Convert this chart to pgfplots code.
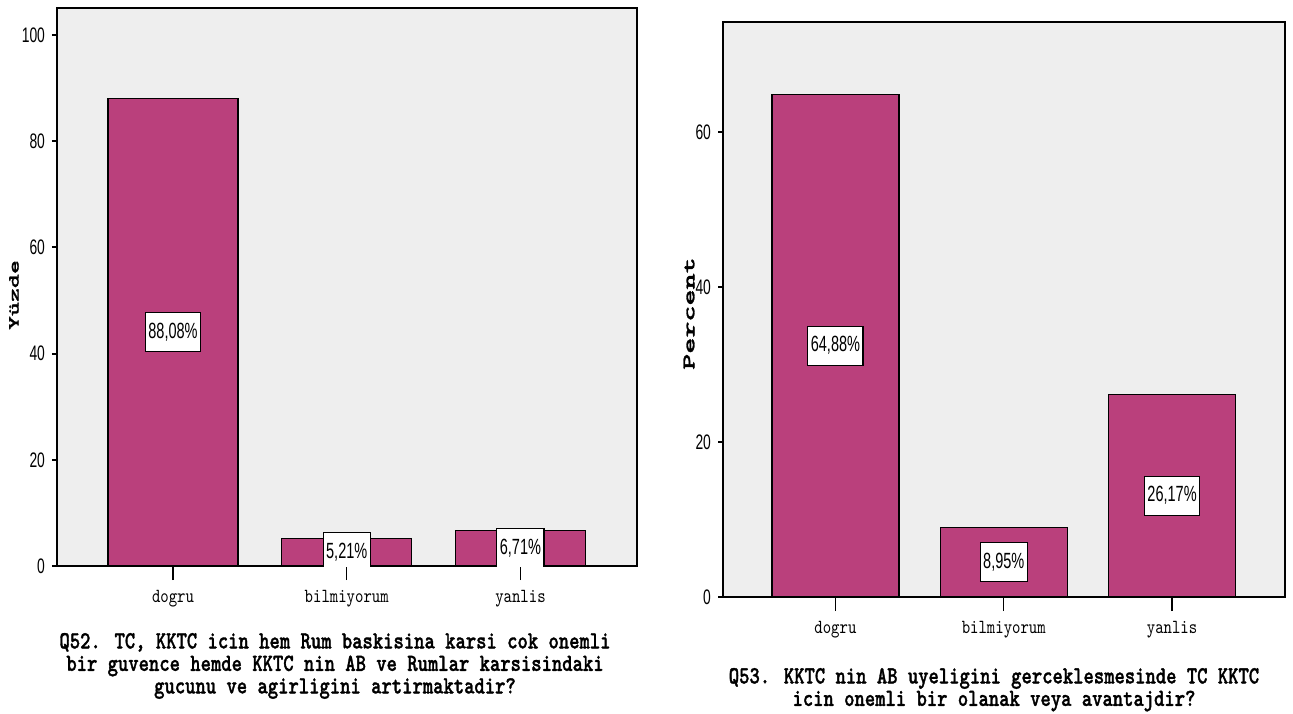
\documentclass[border=0pt]{standalone}
\usepackage{pgfplots}
\pgfplotsset{compat=1.18}
\usepackage{fontspec}
\setmainfont{Liberation Sans}
\newfontfamily\narrowfont[FakeStretch=0.66]{Liberation Sans}
\newfontfamily\monofont{lmmono10-regular}[Extension=.otf, BoldFont=lmmonolt10-bold,
  BoldFeatures={FakeBold=1.3}, FakeStretch=0.8]
\newfontfamily\monowide{lmmono10-regular}[Extension=.otf, BoldFont=lmmonolt10-bold,
  BoldFeatures={FakeBold=1.5}]
\definecolor{barfill}{RGB}{186,64,124}
\definecolor{plotbg}{RGB}{238,238,238}

\pgfplotsset{
  spss/.style={
    scale only axis,
    anchor=south west,
    axis background/.style={fill=plotbg},
    axis line style={line width=0.75pt},
    xmin=-0.668, xmax=2.671, ymin=0,
    xtick={0,1,2}, xticklabels={dogru,bilmiyorum,yanlis},
    tick align=outside,
    xtick pos=lower, ytick pos=left,
    major tick length=2.5pt,
    ytick style={line width=1pt, black},
    xtick style={line width=0.6pt, black, /pgfplots/major tick length=7pt},
    x tick label style={font=\monofont\fontsize{10}{11}\selectfont, yshift=-6pt},
    y tick label style={font=\narrowfont\fontsize{10.5}{12}\selectfont},
    /pgf/number format/assume math mode=true,
    ylabel style={at={(axis description cs:0,0.5)}, anchor=center},
    xlabel style={at={(axis description cs:0.5,0)}, anchor=north, align=center,
      font=\monofont\bfseries\fontsize{12.3}{11.25}\selectfont},
    clip marker paths=true,
  },
  lbl/.style={draw=none, nodes near coords, point meta=explicit symbolic,
    every node near coord/.append style={anchor=center, yshift=0pt,
      font=\narrowfont\fontsize{11}{12}\selectfont, fill=white, draw=black,
      line width=0.6pt, inner xsep=1.5pt, inner ysep=0pt, minimum height=19.5pt}},
}

\begin{document}
\begin{tikzpicture}
\path[use as bounding box] (0,0) rectangle (646.5pt,356.5pt);

\begin{axis}[spss,
  at={(28.5pt,73.5pt)}, width=290pt, height=279pt,
  ymax=105.1, ytick={0,20,40,60,80,100},
  ylabel={\scalebox{1}[0.58]{\monowide\bfseries\fontsize{13.3}{14}\selectfont Yüzde}},
  ylabel style={yshift=21.5pt, xshift=-4pt},
  xlabel={Q52. TC, KKTC icin hem Rum baskisina karsi cok onemli\\bir guvence hemde KKTC nin AB ve Rumlar karsisindaki\\gucunu ve agirligini artirmaktadir?},
  xlabel style={yshift=-30pt, xshift=-6pt},
]
\addplot[ybar, bar width=65pt, fill=barfill, draw=black, line width=0.7pt]
  coordinates {(0,88.08) (1,5.21) (2,6.71)};
\addplot[lbl] coordinates {(0,44.04) [88,08\%] (1,2.605) [5,21\%] (2,3.355) [6,71\%]};
\end{axis}

\begin{axis}[spss,
  at={(361.5pt,58pt)}, width=281pt, height=287.5pt,
  ymax=74.2, ytick={0,20,40,60},
  ylabel={\scalebox{1}[0.58]{\monowide\bfseries\fontsize{15.3}{16}\selectfont Percent}},
  ylabel style={yshift=17pt, xshift=-2pt},
  xlabel={Q53. KKTC nin AB uyeligini gerceklesmesinde TC KKTC\\icin onemli bir olanak veya avantajdir?},
  xlabel style={yshift=-32pt, xshift=-5pt},
]
\addplot[ybar, bar width=63.5pt, fill=barfill, draw=black, line width=0.7pt]
  coordinates {(0,64.88) (1,8.95) (2,26.17)};
\addplot[lbl] coordinates {(0,32.44) [64,88\%] (1,4.475) [8,95\%] (2,13.085) [26,17\%]};
\end{axis}
\end{tikzpicture}
\end{document}
